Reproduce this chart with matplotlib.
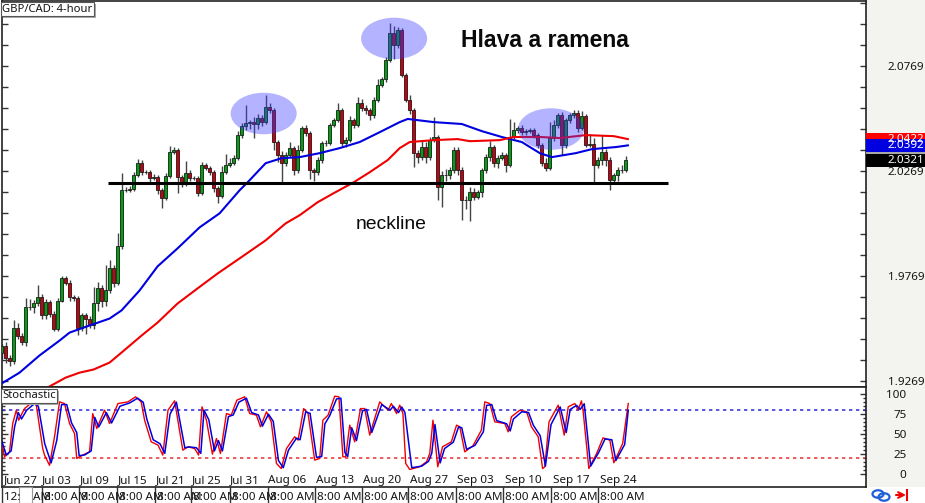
import matplotlib
matplotlib.use("Agg")
import matplotlib.pyplot as plt
from matplotlib.patches import Ellipse, Rectangle

W, H = 925, 503

# GBP/CAD 4-hour closes
closes = [
    1.9437, 1.9380, 1.9365, 1.9523, 1.9485, 1.9452, 1.9619, 1.9619, 1.9638, 1.9671,
    1.9581, 1.9643, 1.9590, 1.9518, 1.9652, 1.9758, 1.9734, 1.9667, 1.9662, 1.9523,
    1.9581, 1.9566, 1.9533, 1.9638, 1.9714, 1.9652, 1.9700, 1.9805, 1.9738, 1.9910,
    2.0178, 2.0178, 2.0183, 2.0250, 2.0307, 2.0264, 2.0264, 2.0236, 2.0240, 2.0178,
    2.0140, 2.0245, 2.0360, 2.0369, 2.0240, 2.0212, 2.0259, 2.0236, 2.0236, 2.0164,
    2.0298, 2.0283, 2.0264, 2.0188, 2.0149, 2.0264, 2.0298, 2.0307, 2.0331, 2.0441,
    2.0484, 2.0498, 2.0503, 2.0494, 2.0522, 2.0503, 2.0575, 2.0561, 2.0408, 2.0345,
    2.0307, 2.0345, 2.0379, 2.0274, 2.0369, 2.0475, 2.0451, 2.0274, 2.0264, 2.0322,
    2.0403, 2.0403, 2.0489, 2.0513, 2.0561, 2.0403, 2.0417, 2.0513, 2.0489, 2.0594,
    2.0570, 2.0561, 2.0537, 2.0608, 2.0680, 2.0709, 2.0800, 2.0929, 2.0871, 2.0943,
    2.0728, 2.0608, 2.0561, 2.0355, 2.0336, 2.0384, 2.0336, 2.0417, 2.0432, 2.0193,
    2.0250, 2.0250, 2.0274, 2.0369, 2.0274, 2.0130, 2.0130, 2.0169, 2.0145, 2.0169,
    2.0274, 2.0336, 2.0384, 2.0307, 2.0331, 2.0345, 2.0298, 2.0432, 2.0465, 2.0475,
    2.0455, 2.0460, 2.0465, 2.0441, 2.0393, 2.0307, 2.0283, 2.0427, 2.0489, 2.0537,
    2.0393, 2.0513, 2.0537, 2.0546, 2.0475, 2.0532, 2.0393, 2.0398, 2.0298, 2.0322,
    2.0360, 2.0322, 2.0226, 2.0250, 2.0274, 2.0274, 2.0321,
]
first_open = 1.9400

# wick lengths in pips above the body and below it
wick_up = [
    10, 15, 10, 35, 20, 10, 45, 40, 15, 55,
    10, 15, 10, 10, 10, 10, 10, 15, 10, 10,
    10, 10, 10, 80, 25, 10, 120, 40, 15, 65,
    80, 15, 15, 15, 20, 15, 10, 10, 15, 10,
    10, 15, 30, 15, 10, 10, 60, 15, 10, 10,
    15, 10, 10, 10, 10, 30, 55, 25, 15, 20,
    15, 85, 10, 25, 20, 15, 55, 20, 10, 10,
    20, 15, 30, 10, 25, 10, 15, 10, 10, 15,
    10, 15, 10, 10, 35, 10, 15, 20, 10, 30,
    20, 15, 10, 15, 30, 10, 15, 48, 30, 15,
    10, 10, 25, 10, 15, 30, 25, 15, 95, 10,
    20, 30, 15, 15, 15, 15, 20, 25, 20, 10,
    10, 15, 30, 10, 15, 15, 10, 85, 40, 10,
    15, 10, 10, 10, 10, 10, 25, 75, 25, 10,
    15, 10, 10, 15, 15, 25, 10, 50, 30, 15,
    80, 15, 15, 10, 15, 25, 20,
]
wick_dn = [
    25, 25, 25, 15, 15, 10, 15, 10, 25, 10,
    15, 15, 15, 10, 10, 5, 10, 15, 10, 35,
    15, 75, 10, 15, 35, 30, 25, 10, 20, 10,
    10, 10, 10, 10, 10, 15, 10, 20, 10, 20,
    45, 10, 10, 10, 75, 20, 15, 15, 10, 15,
    10, 10, 15, 20, 30, 10, 10, 10, 10, 10,
    15, 20, 30, 65, 25, 20, 10, 15, 40, 30,
    90, 15, 10, 25, 15, 10, 15, 40, 40, 15,
    15, 15, 10, 10, 10, 15, 20, 10, 15, 10,
    15, 20, 25, 15, 10, 10, 15, 10, 65, 15,
    10, 10, 20, 65, 30, 15, 30, 15, 10, 60,
    95, 30, 20, 15, 25, 95, 40, 100, 15, 10,
    25, 15, 20, 20, 25, 10, 35, 10, 10, 15,
    15, 15, 10, 15, 15, 15, 15, 10, 15, 15,
    45, 15, 15, 15, 20, 10, 10, 10, 80, 15,
    25, 30, 48, 20, 30, 15, 10,
]

# moving averages: bar position and price
ma_blue_x = [0, 4.5, 9.5, 14.5, 17, 22, 27, 30, 34.5, 39, 44, 49.5, 54.5, 59.5, 61.5, 66, 70,
             74.5, 79.5, 84.5, 89.5, 94.5, 99.5, 101.5, 108, 115, 120, 125, 130, 134.5, 137.5,
             143.5, 147.5, 153.5, 156.5]
ma_blue = [1.9256, 1.9308, 1.9390, 1.9461, 1.9499, 1.9533, 1.9566, 1.9605, 1.9700, 1.9815,
           1.9901, 2.0001, 2.0068, 2.0178, 2.0216, 2.0307, 2.0331, 2.0336, 2.0355, 2.0379,
           2.0408, 2.0455, 2.0503, 2.0518, 2.0503, 2.0494, 2.0460, 2.0432, 2.0408, 2.0355,
           2.0336, 2.0355, 2.0374, 2.0384, 2.0392]
ma_red_x = [11.5, 16, 19.5, 23, 27, 30, 35, 39, 44, 49, 54, 59.5, 66, 71, 74.5, 79, 83, 88, 92,
            96.5, 99.5, 102, 108, 114, 117, 124.5, 128, 134.5, 139.5, 146, 153, 156.5]
ma_red = [1.9237, 1.9284, 1.9308, 1.9323, 1.9356, 1.9404, 1.9485, 1.9547, 1.9638, 1.9710,
          1.9781, 1.9853, 1.9939, 2.0020, 2.0059, 2.0121, 2.0164, 2.0216, 2.0264, 2.0322,
          2.0379, 2.0408, 2.0417, 2.0422, 2.0412, 2.0417, 2.0432, 2.0432, 2.0427, 2.0441,
          2.0436, 2.0422]

neckline = 2.0212
price_labels = ["2.0769", "2.0269", "1.9769", "1.9269"]

# stochastic
stoch_red_x = [-0.5, 0.75, 2, 2.8, 3.7, 4.3, 5.75, 7.8, 8.7, 10.3, 10.75, 12, 13.25, 14.5, 15.75, 17,
               18.25, 18.8, 20.3, 22, 22.8, 23.8, 25.75, 27, 29.1, 31.6, 33.5, 34.9, 35.75, 37.4,
               39.1, 40.3, 41.6, 43.25, 45.3, 46.6, 48.25, 49.25, 50.1, 51.2, 52.7, 53.7, 54.7,
               56.2, 57.4, 58.8, 60.75, 62, 63.7, 64.7, 66.2, 67.4, 68.7, 69.9, 71.2, 73.25, 74.1,
               75.5, 76.6, 78.25, 79.5, 80.3, 81.6, 83.25, 84.3, 85.3, 86, 87, 88.25, 89.7, 90.75,
               92, 94.5, 96.6, 97.4, 98.7, 99.5, 100.3, 101, 102, 104.5, 106.2, 107, 107.8, 109,
               110.2, 112.4, 113.7, 114.5, 115.75, 117.8, 119.9, 120.75, 122, 123.25, 125.75,
               126.6, 127.4, 129.5, 131.2, 132.4, 134.1, 135.2, 135.75, 136.8, 139.1, 140.6,
               141.6, 143.25, 144.1, 144.9, 145.3, 146.75, 148.7, 150.3, 152, 153, 155.2, 156.6]
stoch_red = [55, 21.7, 27.9, 63.3, 80, 67.5, 82, 90.4, 86.3, 32, 23.8, 11, 46.7, 90.4, 88.3, 63.3,
             50.8, 19.6, 23.8, 27.9, 75.8, 57, 80, 63.3, 88.3, 90.4, 96.7, 90.4, 67.5, 40.4,
             36.3, 23.8, 80, 91.7, 30, 34.2, 32, 23.8, 84.2, 67.5, 25, 44.6, 25.8,
             75.8, 73.8, 92.5, 96.7, 75.8, 73.8, 59.2, 77.9, 65.4, 13.3, 7, 32, 46.7, 42.5,
             82, 75.8, 17.5, 19.6, 67.5, 73.8, 97.5, 96.7, 21.7, 21.7, 61.3, 40.4, 82, 82,
             48.8, 90.4, 80, 88.3, 75.8, 86.3, 75.8, 13.3, 5.8, 9.2, 15.4, 25.8, 67.5, 9.2,
             34.2, 40.4, 61.3, 59.2, 27.9, 35.4, 55, 90.4, 88.3, 65.4, 63.3,
             52.9, 71.7, 80, 77.9, 59.2, 46.7, 7, 9.2, 65.4, 86.3, 48.8,
             84.2, 88.3, 80, 91.7, 80, 7, 25.8, 45.4, 42.5, 14.2, 38.3, 88.3]
stoch_blue_x = [0, 1.2, 2.4, 3.3, 4.2, 5, 6.3, 8.2, 9.2, 10.8, 12.4, 13.8, 15, 16.3, 17.5,
                18.8, 19.4, 20.8, 22.4, 23.3, 24.3, 26.2, 27.5, 29.6, 32, 34, 35.4, 36.3, 37.9,
                39.6, 40.8, 42.1, 43.7, 45.8, 47, 48.7, 49.8, 50.6, 51.8, 53.2, 54.2, 55.2,
                56.7, 57.9, 59.3, 61.2, 62.5, 64.2, 65.2, 66.7, 67.9, 69.2, 70.4, 71.7, 73.7, 74.6,
                76, 77.1, 78.7, 80, 80.8, 82, 83.7, 84.8, 85.8, 86.5, 87.5, 88.7, 90.2, 91.2,
                92.5, 95, 97.1, 97.9, 99.2, 100, 100.8, 102.5, 105, 106.7, 107.5, 108.3, 109.6,
                110.7, 112.9, 114.2, 115, 116.2, 118.3, 120.4, 121.2, 122.5, 123.7, 126.2,
                127.1, 127.9, 130, 131.7, 132.9, 134.6, 135.9, 137.3, 139.6, 141.1,
                142.1, 143.7, 144.6, 145.6, 147.2, 149.2, 150.8, 152.5, 153.5, 155.7, 156.6]
stoch_blue = [42, 24, 29, 60, 77, 69, 80, 88, 85, 38, 14, 42, 87, 87, 64,
              52, 23, 24, 29, 71, 59, 77, 64, 85, 89, 95, 90, 69, 43,
              38, 26, 75, 90, 33, 34, 33, 26, 80, 68, 29, 42, 29,
              72, 74, 90, 95, 77, 74, 60, 75, 66, 17, 8, 30, 45, 43,
              78, 76, 21, 22, 63, 73, 94, 95, 27, 22, 58, 42, 79, 81,
              52, 87, 80, 85, 77, 84, 77, 8, 10, 16, 26, 62, 14,
              32, 40, 59, 58, 31, 36, 53, 86, 87, 67, 63,
              54, 69, 78, 77, 61, 48, 10, 62, 84, 52,
              81, 86, 81, 88, 10, 27, 44, 43, 17, 37, 80]
stoch_levels = [80.5, 20.5]
stoch_ticks = [0, 25, 50, 75, 100]

date_labels = ["Jun 27", "Jul 03", "Jul 09", "Jul 15", "Jul 21", "Jul 25", "Jul 31", "Aug 06",
               "Aug 13", "Aug 20", "Aug 27", "Sep 03", "Sep 10", "Sep 17", "Sep 24"]
date_pos = [0.5, 10.2, 19.5, 29, 38.5, 47.5, 57, 66.7, 78.5, 90.3, 102, 113.7, 125.7, 137.7, 149.5]

plt.rcParams["font.family"] = ["Noto Sans", "DejaVu Sans"]


def box(left, top, right, bottom):
    return [left / W, 1 - bottom / H, (right - left) / W, (bottom - top) / H]


fig = plt.figure(figsize=(W / 100, H / 100), dpi=100, facecolor="white")

# chrome in pixel coordinates, underneath everything
bg = fig.add_axes([0, 0, 1, 1], zorder=0)
bg.set_xlim(0, W)
bg.set_ylim(H, 0)
bg.axis("off")
bg.add_patch(Rectangle((866, 0), W - 866, 487, color="#f3f3ef", lw=0))

# price panel
ax = fig.add_axes(box(1.5, 0.5, 866, 386.5), zorder=1)
ax.set_xlim(0, 216)
ax.set_ylim(1.9242, 2.1083)
opens = [first_open] + closes[:-1]
for i, (o, c) in enumerate(zip(opens, closes)):
    top = max(o, c) + wick_up[i] / 10000
    bot = min(o, c) - wick_dn[i] / 10000
    ax.vlines(i, bot, top, color="#444444", lw=1.0, zorder=2)
    ax.bar(i, abs(c - o), bottom=min(o, c), width=0.8, zorder=3, linewidth=0.6, edgecolor="#1a1a1a",
           color="#00a010" if c >= o else "#c80010")
ax.plot(ma_blue_x, ma_blue, color="#0000e0", lw=1.5, zorder=4)
ax.plot(ma_red_x, ma_red, color="#f00000", lw=1.5, zorder=4)
ax.plot([26.5, 166.5], [neckline, neckline], color="black", lw=2.2, zorder=5, solid_capstyle="butt")

for cx, cy in [(65.5, 2.0544), (98.1, 2.0902), (137.3, 2.0470)]:
    ax.add_patch(Ellipse((cx, cy), 16.5, 0.0198, color="#3838ff", alpha=0.38, lw=0, zorder=6))

ax.text(114.8, 2.0893, "Hlava a ramena", fontsize=16.6, fontweight="bold", family="Liberation Sans",
        va="center", ha="left", color="#0a0a0a")
ax.text(88.5, 2.0014, "neckline", fontsize=13.9, family="Liberation Sans", va="center", ha="left",
        color="#0a0a0a")

major = [2.1069, 2.0969, 2.0869, 2.0769, 2.0669, 2.0569, 2.0469, 2.0369, 2.0269, 2.0169, 2.0069,
         1.9969, 1.9869, 1.9769, 1.9669, 1.9569, 1.9469, 1.9369, 1.9269]
ax.set_yticks(major)
ax.set_yticklabels([("%.4f" % m if "%.4f" % m in price_labels else "") for m in major])
ax.set_xticks([])
ax.tick_params(axis="y", direction="in", left=True, right=True, labelleft=False, labelright=True,
               length=4.5, width=1, color="#333333", labelsize=8.4, pad=15.5, labelcolor="#151515")
for s in ax.spines.values():
    s.set_color("#222222")
    s.set_linewidth(1.2)

# last-value boxes on the price scale, on their own axes so they can sit outside the panel
ax_r = fig.add_axes(box(866, 0.5, 925, 386.5), zorder=2)
ax_r.set_ylim(ax.get_ylim())
ax_r.set_xlim(0, 1)
ax_r.axis("off")
ax_r.axhspan(2.0350, 2.0362, color="#a8a8a8", lw=0)
for val, col in [(2.0422, "#ff0000"), (2.0392, "#0000e0"), (2.0321, "#000000")]:
    ax_r.axhspan(val - 0.0031, val + 0.0031, color=col, lw=0)
    ax_r.text(0.37, val, "%.4f" % val, color="white", fontsize=8.4, va="center", ha="left")

# stochastic panel
ax_s = fig.add_axes(box(1.5, 387, 866, 486.5), zorder=1)
ax_s.set_xlim(0, 216)
ax_s.set_ylim(-15.5, 109)
ax_s.plot(stoch_red_x, stoch_red, color="#f00000", lw=1.0, zorder=3)
ax_s.plot(stoch_blue_x, stoch_blue, color="#0000e0", lw=1.1, zorder=4)
ax_s.axhline(stoch_levels[0], color="#3a3ae0", lw=1.2, ls=(0, (2, 2.2)), zorder=2)
ax_s.axhline(stoch_levels[1], color="#e84040", lw=1.2, ls=(0, (2, 2.2)), zorder=2)
ax_s.set_xticks([])
ax_s.set_yticks(stoch_ticks)
ax_s.set_yticks(range(5, 100, 5), minor=True)
ax_s.tick_params(axis="y", which="major", direction="in", left=True, right=True, labelleft=False,
                 labelright=True, length=4.5, width=1, color="#333333", labelsize=8.4, pad=29,
                 labelcolor="#151515")
ax_s.tick_params(axis="y", which="minor", direction="in", left=True, right=True, length=2.5, width=1,
                 color="#333333")
for lab in ax_s.get_yticklabels():
    lab.set_ha("right")
for s in ax_s.spines.values():
    s.set_color("#222222")
    s.set_linewidth(1.2)
for p, lab in zip(date_pos, date_labels):
    ax_s.text(p, -8.5, lab, fontsize=8.4, va="center", ha="left", color="#151515")

# overlay for the title boxes, the time row and the small icons
top = fig.add_axes([0, 0, 1, 1], zorder=3)
top.set_xlim(0, W)
top.set_ylim(H, 0)
top.axis("off")
top.patch.set_alpha(0)

top.add_patch(Rectangle((3, 4), 93, 14, color="#aaaaaa", lw=0))
top.add_patch(Rectangle((1, 2), 93, 14, facecolor="white", edgecolor="#555555", lw=0.8))
top.text(2.5, 9, "GBP/CAD: 4-hour", fontsize=8.1, va="center", ha="left", color="#151515")
top.add_patch(Rectangle((3, 391), 56, 14, color="#aaaaaa", lw=0))
top.add_patch(Rectangle((1, 389), 56, 14, facecolor="white", edgecolor="#555555", lw=0.8))
top.text(2.5, 396, "Stochastic", fontsize=8.1, va="center", ha="left", color="#151515")

sep_x = [2, 42, 79, 117, 155, 191, 230, 268, 315, 362, 408, 456, 503, 551, 598]
for sx in sep_x:
    top.plot([sx, sx], [487, 503], color="#333333", lw=1)
top.text(4, 497, "12:", fontsize=8.4, va="center", ha="left", color="#151515")
top.text(33, 497, "AM", fontsize=8.4, va="center", ha="left", color="#151515")
top.add_patch(Rectangle((19, 487), 13, 15.5, facecolor="white", edgecolor="#9a9a9a", lw=0.8))
for sx in sep_x[1:]:
    top.text(sx + 2, 497, "8:00 AM", fontsize=8.4, va="center", ha="left", color="#151515")

# chain and jump-to-end icons
top.add_patch(Ellipse((878, 494), 11, 7.5, fill=False, edgecolor="#1f5fd8", lw=1.6))
top.add_patch(Ellipse((884, 497), 11, 7.5, fill=False, edgecolor="#1f5fd8", lw=1.6))
top.annotate("", xy=(906, 495), xytext=(896, 495),
             arrowprops=dict(arrowstyle="->", color="#f00000", lw=1.5, shrinkA=0, shrinkB=0))
top.plot([907, 907], [490, 500], color="#f00000", lw=1.5)

fig.savefig("out.png", dpi=100, facecolor="white")
